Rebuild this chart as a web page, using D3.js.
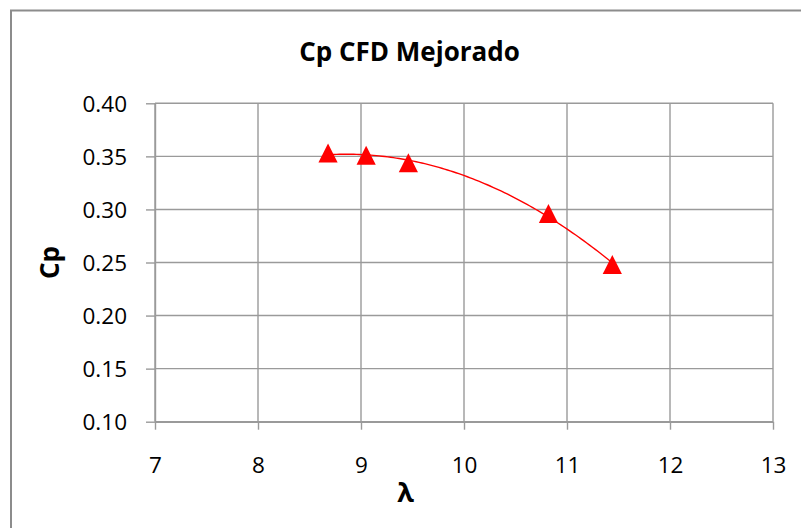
<!DOCTYPE html>
<html>
<head>
<meta charset="utf-8">
<script src="https://cdn.jsdelivr.net/npm/d3@7"></script>
<style>
  html, body { margin: 0; padding: 0; background: #fff; }
  svg { display: block; }
  text { font-family: "Open Sans", "Liberation Sans", sans-serif; fill: #000; }
</style>
</head>
<body>
<svg id="chart" width="801" height="528"></svg>
<script>
// Data
const lambdaValues = [8.68, 9.05, 9.46, 10.82, 11.44];
const cpValues = [0.353, 0.351, 0.344, 0.296, 0.248];
const xTicks = [7, 8, 9, 10, 11, 12, 13];
const yTicks = [0.10, 0.15, 0.20, 0.25, 0.30, 0.35, 0.40];
const chartTitle = "Cp CFD Mejorado";
const xTitle = "λ";
const yTitle = "Cp";

const svg = d3.select("#chart");
const W = 801, H = 528;

// Outer chart border (extends beyond the right/bottom edges like the source crop)
svg.append("rect")
  .attr("x", 11).attr("y", 10.5)
  .attr("width", W + 20).attr("height", H + 20)
  .attr("fill", "#fff").attr("stroke", "#8c8c8c").attr("stroke-width", 2);

const plot = { left: 155, right: 773, top: 103.3, bottom: 421.7 };
const x = d3.scaleLinear().domain([7, 13]).range([plot.left, plot.right]);
const y = d3.scaleLinear().domain([0.10, 0.40]).range([plot.bottom, plot.top]);

const gridColor = "#9a9a9a";

// Gridlines
svg.append("g").selectAll("line.h").data(yTicks).join("line")
  .attr("x1", plot.left).attr("x2", plot.right)
  .attr("y1", d => y(d)).attr("y2", d => y(d))
  .attr("stroke", gridColor).attr("stroke-width", 1.4);
svg.append("g").selectAll("line.v").data(xTicks).join("line")
  .attr("x1", d => x(d)).attr("x2", d => x(d))
  .attr("y1", plot.top).attr("y2", plot.bottom)
  .attr("stroke", gridColor).attr("stroke-width", 1.4);

// Axes
const xAxis = d3.axisBottom(x).tickValues(xTicks).tickSizeInner(8).tickSizeOuter(0).tickPadding(27).tickFormat(d3.format("d"));
const gx = svg.append("g").attr("transform", `translate(0,${plot.bottom})`).call(xAxis);
const yAxis = d3.axisLeft(y).tickValues(yTicks).tickSizeInner(9).tickSizeOuter(0).tickPadding(19).tickFormat(d3.format(".2f"));
const gy = svg.append("g").attr("transform", `translate(${plot.left},0)`).call(yAxis);

[gx, gy].forEach(g => {
  g.select(".domain").attr("stroke", gridColor).attr("stroke-width", 1.4);
  g.selectAll(".tick line").attr("stroke", gridColor).attr("stroke-width", 1.4);
  g.selectAll(".tick text")
    .style("font-family", '"Open Sans", "Liberation Sans", sans-serif')
    .style("font-size", "22.5px").attr("fill", "#000");
});
gy.selectAll(".tick text").attr("dy", "0.36em");
gx.selectAll(".tick text").attr("dy", "0.71em");

// Quadratic trendline (least-squares fit of the data, as in the spreadsheet)
function polyFit2(xs, ys) {
  let S = [0,0,0,0,0], T = [0,0,0];
  xs.forEach((xv, i) => {
    for (let k = 0; k < 5; k++) S[k] += Math.pow(xv, k);
    for (let k = 0; k < 3; k++) T[k] += ys[i] * Math.pow(xv, k);
  });
  const A = [[S[0],S[1],S[2],T[0]],[S[1],S[2],S[3],T[1]],[S[2],S[3],S[4],T[2]]];
  for (let i = 0; i < 3; i++) {
    let p = i;
    for (let r = i+1; r < 3; r++) if (Math.abs(A[r][i]) > Math.abs(A[p][i])) p = r;
    [A[i], A[p]] = [A[p], A[i]];
    for (let r = 0; r < 3; r++) {
      if (r === i) continue;
      const f = A[r][i] / A[i][i];
      for (let c = i; c < 4; c++) A[r][c] -= f * A[i][c];
    }
  }
  return [A[0][3]/A[0][0], A[1][3]/A[1][1], A[2][3]/A[2][2]];
}
const coef = polyFit2(lambdaValues, cpValues);
const xMin = d3.min(lambdaValues), xMax = d3.max(lambdaValues);
const trend = d3.range(0, 101).map(i => {
  const xv = xMin + (xMax - xMin) * i / 100;
  return [xv, coef[0] + coef[1]*xv + coef[2]*xv*xv];
});
svg.append("path")
  .datum(trend)
  .attr("fill", "none").attr("stroke", "#ff0000").attr("stroke-width", 1.4)
  .attr("d", d3.line().x(d => x(d[0])).y(d => y(d[1])));

// Triangle markers
const pts = lambdaValues.map((v, i) => ({ x: v, y: cpValues[i] }));
svg.append("g").selectAll("path").data(pts).join("path")
  .attr("transform", d => `translate(${x(d.x)},${y(d.y)})`)
  .attr("d", "M0,-9.6L9.6,9.4L-9.6,9.4Z")
  .attr("fill", "#ff0000");

// Titles
svg.append("text")
  .attr("x", 409.5).attr("y", 61)
  .attr("text-anchor", "middle")
  .style("font-size", "26px").style("font-weight", "bold")
  .text(chartTitle);

svg.append("text")
  .attr("x", 405.5).attr("y", 502)
  .attr("text-anchor", "middle")
  .style("font-size", "27px").style("font-weight", "bold")
  .text(xTitle);

svg.append("text")
  .attr("transform", "translate(59,262.5) rotate(-90)")
  .attr("text-anchor", "middle")
  .style("font-size", "26px").style("font-weight", "bold")
  .text(yTitle);
</script>
</body>
</html>
